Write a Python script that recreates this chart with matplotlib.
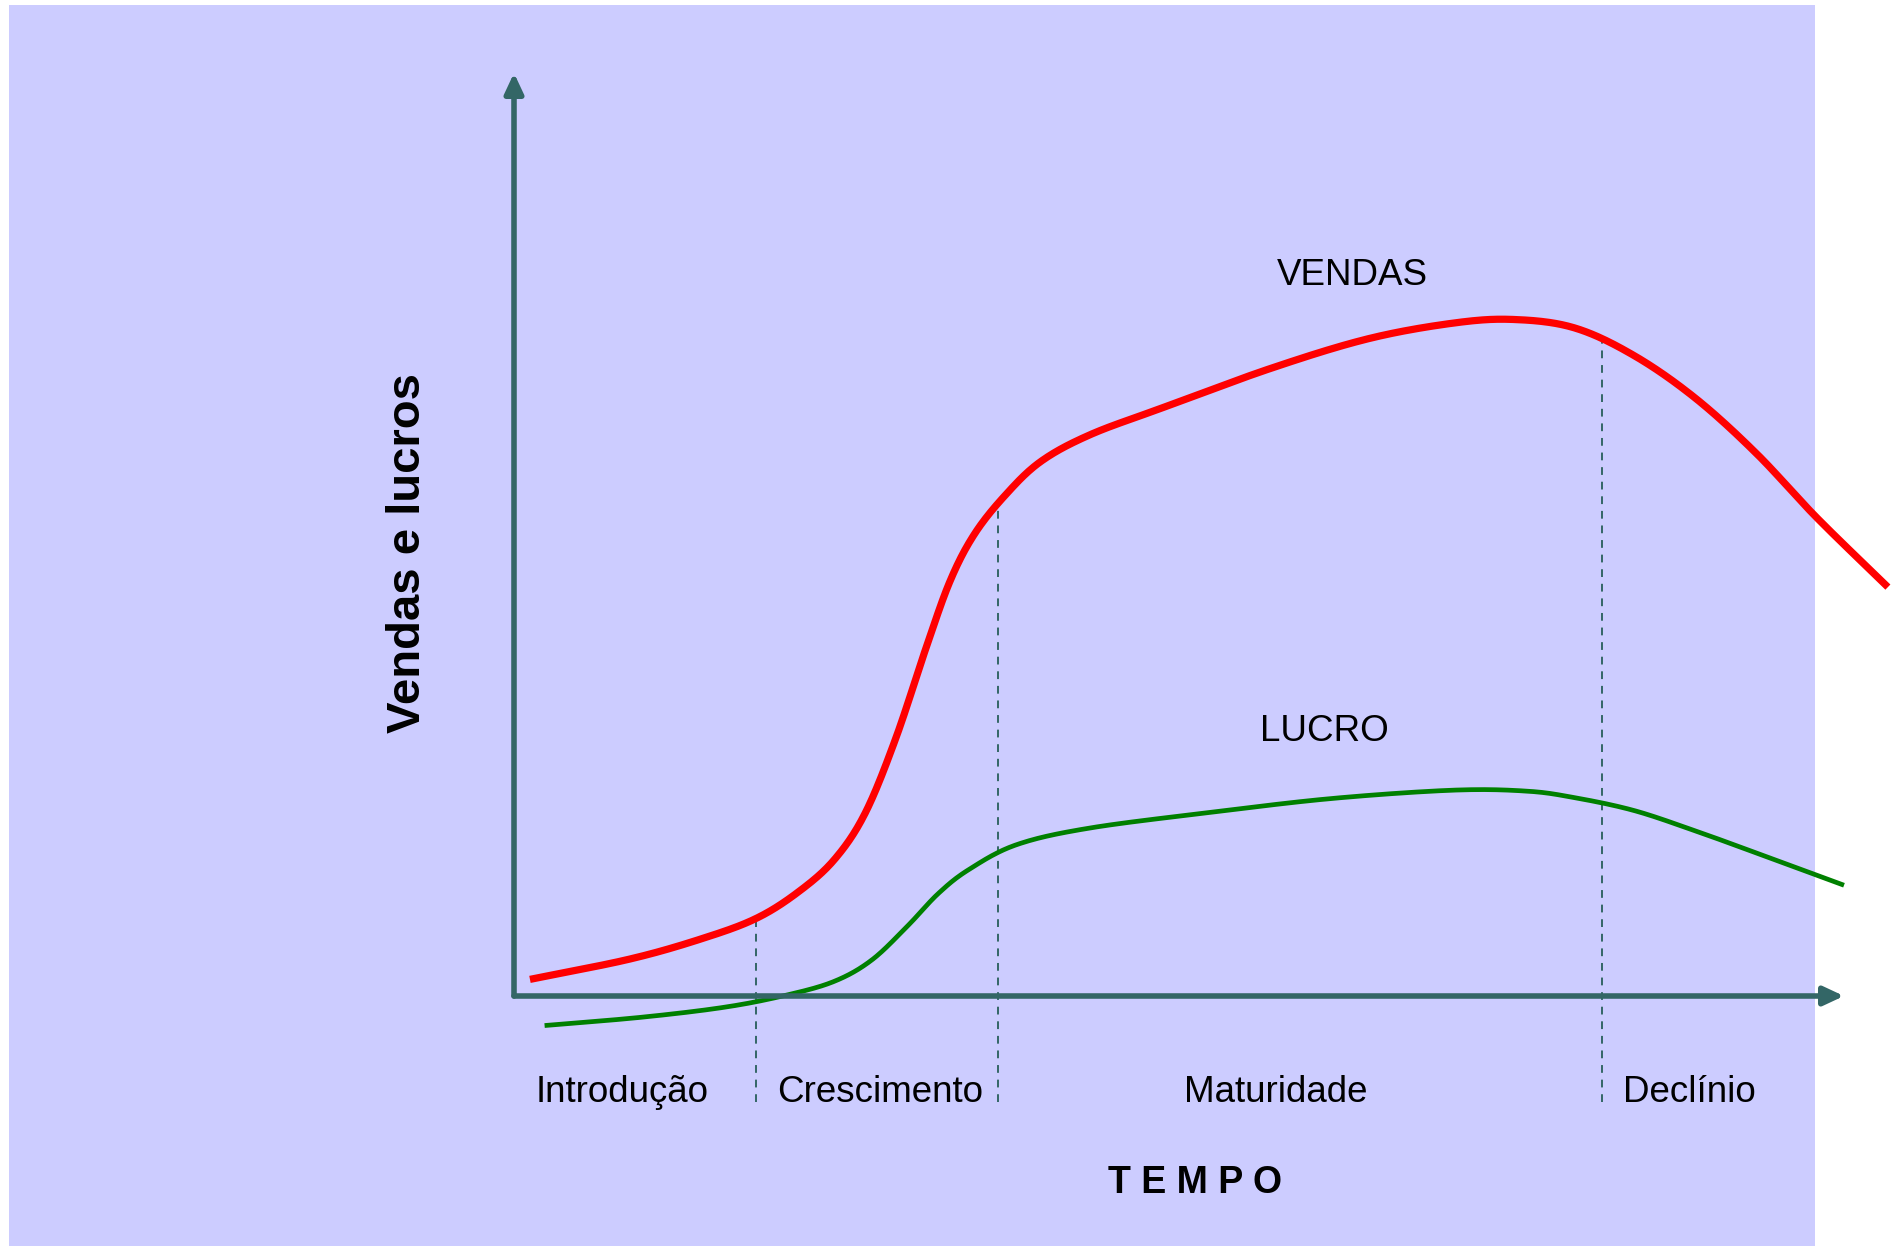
import numpy as np
import matplotlib
matplotlib.use("Agg")
import matplotlib.pyplot as plt
from matplotlib.patches import Rectangle

plt.rcParams['font.family'] = ['Liberation Sans', 'DejaVu Sans']

# chart data (time 0-100 along the x arrow, value 0-100 along the y arrow)
vendas_x = [1.2, 8.7, 14.1, 18.2, 21.4, 24.1, 26.4, 28.7, 31.0, 32.8, 34.6, 36.9,
            39.6, 43.3, 48.7, 56.9, 64.2, 70.6, 75.1, 79.7, 84.2, 88.8, 93.4, 97.9, 103.3]
vendas_y = [1.8, 4.0, 6.2, 8.4, 11.3, 14.8, 19.8, 27.9, 37.8, 45.0, 50.0, 54.2,
            57.9, 60.8, 63.7, 68.0, 71.2, 72.9, 73.3, 72.4, 69.4, 64.8, 58.8, 51.9, 44.3]

lucro_x = [2.3, 9.6, 15.9, 20.5, 24.1, 26.9, 29.6, 31.9, 34.2, 37.8, 43.3, 52.4,
           61.5, 70.6, 76.1, 79.7, 84.2, 88.8, 93.4, 100.0]
lucro_y = [-3.2, -2.3, -1.2, 0.1, 1.6, 3.9, 7.6, 11.1, 13.7, 16.4, 18.2, 19.9,
           21.4, 22.3, 22.2, 21.5, 20.1, 17.9, 15.5, 12.0]

fases = ["Introdução", "Crescimento", "Maturidade", "Declínio"]
fases_x = [8.1, 27.5, 57.3, 88.35]
limites_x = [18.2, 36.4, 81.8]


def catmull_rom(xs, ys, n=30):
    p = np.column_stack([xs, ys]).astype(float)
    p = np.vstack([2 * p[0] - p[1], p, 2 * p[-1] - p[-2]])
    out = []
    t = np.linspace(0, 1, n, endpoint=False)[:, None]
    for i in range(1, len(p) - 2):
        p0, p1, p2, p3 = p[i - 1], p[i], p[i + 1], p[i + 2]
        seg = 0.5 * ((2 * p1) + (-p0 + p2) * t + (2 * p0 - 5 * p1 + 4 * p2 - p3) * t ** 2
                     + (-p0 + 3 * p1 - 3 * p2 + p3) * t ** 3)
        out.append(seg)
    out.append(p[-2][None, :])
    out = np.vstack(out)
    return out[:, 0], out[:, 1]


fig = plt.figure(figsize=(18.98, 12.46), dpi=100)
ax = fig.add_axes([0, 0, 1, 1])
ax.set_xlim(-514 / 13.3, (1898 - 514) / 13.3)
ax.set_ylim(-(1246 - 996) / 9.23, 996 / 9.23)
ax.axis("off")

# background panel
ax.add_patch(Rectangle((9 / 1898, 0), (1815 - 9) / 1898, (1246 - 5) / 1246,
                       transform=fig.transFigure, facecolor="#ccccff",
                       edgecolor="none", zorder=0))

axis_col = "#336666"

# curves
vx, vy = catmull_rom(vendas_x, vendas_y)
lx, ly = catmull_rom(lucro_x, lucro_y)
ax.plot(lx, ly, color="#008000", lw=3.4, solid_capstyle="butt", zorder=3)
ax.plot(vx, vy, color="#ff0000", lw=5.2, solid_capstyle="butt", zorder=4)

# phase boundaries
for bx in limites_x:
    top = np.interp(bx, vx, vy)
    ax.plot([bx, bx], [-11.5, top], color=axis_col, lw=1.4,
            linestyle=(0, (4, 3.5)), zorder=2)

# axes with arrows
arrow_style = "-|>,head_length=0.6,head_width=0.28"
ax.annotate("", xy=(100, 0), xytext=(0, 0),
            arrowprops=dict(arrowstyle=arrow_style, mutation_scale=20,
                            color=axis_col, lw=4, shrinkA=0, shrinkB=0), zorder=5)
ax.annotate("", xy=(0, 100), xytext=(0, 0),
            arrowprops=dict(arrowstyle=arrow_style, mutation_scale=20,
                            color=axis_col, lw=4, shrinkA=0, shrinkB=0), zorder=5)

# labels
ax.text(63.0, 77.0, "VENDAS", fontsize=26.5, ha="center", va="baseline")
ax.text(60.9, 27.6, "LUCRO", fontsize=26.5, ha="center", va="baseline")
for nome, fx in zip(fases, fases_x):
    ax.text(fx, -11.5, nome, fontsize=26.5, ha="center", va="baseline")
ax.text(51.2, -21.3, "T E M P O", fontsize=27, fontweight="bold",
        ha="center", va="baseline")
ax.text(-8.0, 48.0, "Vendas e lucros", fontsize=34, fontweight="bold",
        rotation=90, ha="center", va="center")

fig.savefig("out.png", dpi=100)
